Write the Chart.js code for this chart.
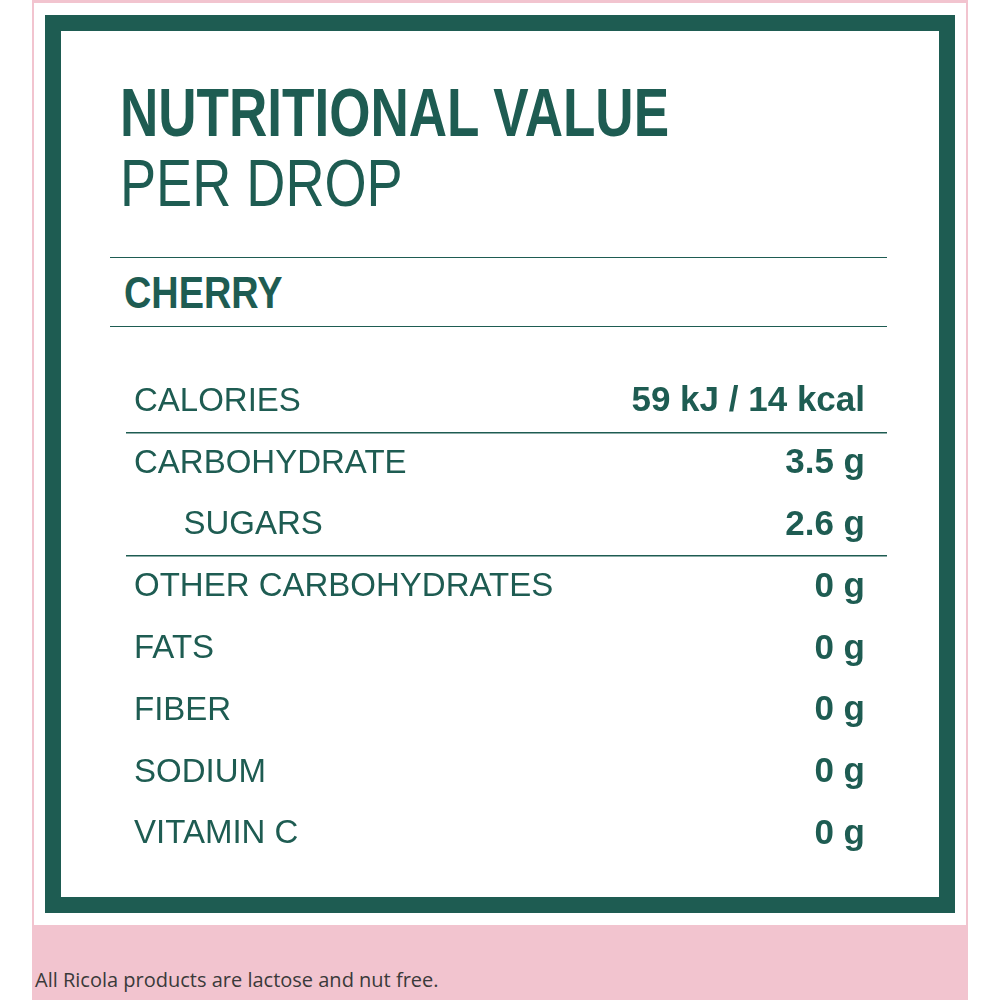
<!DOCTYPE html>
<html><head><meta charset="utf-8">
<script src="https://cdn.jsdelivr.net/npm/chart.js@4"></script>
<style>
body{margin:0;width:1000px;height:1000px;background:#fff;position:relative;overflow:hidden;font-family:'Liberation Sans',sans-serif;color:#1e5c52}
#pinkframe{position:absolute;left:32px;top:0;width:936px;height:1000px;border-left:2px solid #f2c4cf;border-right:2px solid #f2c4cf;border-top:3px solid #f2c4cf;box-sizing:border-box}
#band{position:absolute;left:32px;top:925px;width:936px;height:75px;background:#f2c4cf}
#foot{position:absolute;left:35px;top:966px;font:20px 'Open Sans',sans-serif;color:#3a3a3a}
#frame{position:absolute;left:45px;top:15px;width:910px;height:898px;border:16px solid #1e5c52;box-sizing:border-box;background:#fff}
#t1{position:absolute;left:120px;top:78px;font-weight:bold;font-size:68px;line-height:68px;transform:scaleX(0.78);transform-origin:left}
#t2{position:absolute;left:120px;top:150px;font-size:66px;line-height:66px;transform:scaleX(0.82);transform-origin:left}
#cher{position:absolute;left:110px;top:257px;width:777px;height:70px;border-top:1.5px solid #1e5c52;border-bottom:1.5px solid #1e5c52;box-sizing:border-box}
#cher span{position:absolute;left:14px;top:10px;font-weight:bold;font-size:44px;transform:scaleX(0.86);transform-origin:left;display:inline-block}
#wrap{position:absolute;left:110px;top:343px;width:777px;height:550px}
</style></head><body>
<div id="pinkframe"></div>
<div id="band"></div>
<div id="foot">All Ricola products are lactose and nut free.</div>
<div id="frame"></div>
<div id="t1">NUTRITIONAL VALUE</div>
<div id="t2">PER DROP</div>
<div id="cher"><span>CHERRY</span></div>
<div id="wrap"><canvas id="c"></canvas></div>
<script>
const nutrients=['CALORIES','CARBOHYDRATE','\u2003\u2002SUGARS','OTHER CARBOHYDRATES','FATS','FIBER','SODIUM','VITAMIN C'];
const amountLabels=['59 kJ / 14 kcal','3.5 g','2.6 g','0 g','0 g','0 g','0 g','0 g'];
const grams=[3.5,3.5,2.6,0,0,0,0,0];
const separatorRows=[1,3];
const green='#1e5c52';
new Chart(document.getElementById('c'),{
 type:'bar',
 data:{labels:nutrients,datasets:[{data:grams,backgroundColor:'rgba(0,0,0,0)',yAxisID:'y'}]},
 options:{indexAxis:'y',responsive:true,maintainAspectRatio:false,animation:false,
  layout:{padding:0},
  plugins:{legend:{display:false},tooltip:{enabled:false}},
  scales:{
   x:{display:false,min:0,max:10},
   y:{type:'category',position:'left',offset:true,border:{display:false},
      grid:{offset:true,drawTicks:false,lineWidth:1.5,color:c=>separatorRows.includes(c.index)?green:'rgba(0,0,0,0)'},
      ticks:{mirror:true,padding:8,color:green,font:{family:"'Liberation Sans',sans-serif",size:33}}},
   y2:{type:'category',labels:amountLabels,position:'right',offset:true,border:{display:false},
      grid:{display:false},
      ticks:{mirror:true,padding:-22,color:green,font:{family:"'Liberation Sans',sans-serif",size:35,weight:'bold'}}}
  }}
});
</script>
</body></html>
